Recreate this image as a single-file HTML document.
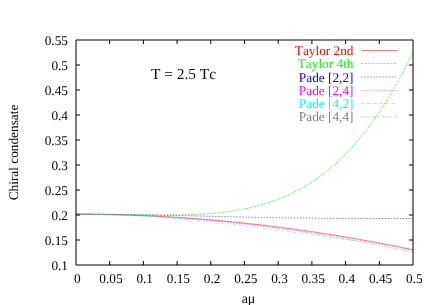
<!DOCTYPE html><html><head><meta charset="utf-8"><style>html,body{margin:0;padding:0;background:#fff}body{width:436px;height:305px;overflow:hidden}</style></head><body><svg width="436" height="305" viewBox="0 0 436 305" style="display:block;will-change:transform">
<rect width="436" height="305" fill="#fff"/>
<g font-family="Liberation Serif, serif" font-size="13.3" fill="#000" text-rendering="geometricPrecision" style="font-kerning:none">
<text x="68" y="269.50" text-anchor="end">0.1</text>
<text x="68" y="244.50" text-anchor="end">0.15</text>
<text x="68" y="219.50" text-anchor="end">0.2</text>
<text x="68" y="194.50" text-anchor="end">0.25</text>
<text x="68" y="169.50" text-anchor="end">0.3</text>
<text x="68" y="144.50" text-anchor="end">0.35</text>
<text x="68" y="119.50" text-anchor="end">0.4</text>
<text x="68" y="94.50" text-anchor="end">0.45</text>
<text x="68" y="69.50" text-anchor="end">0.5</text>
<text x="68" y="44.50" text-anchor="end">0.55</text>
<text x="77.30" y="282.70" text-anchor="middle">0</text>
<text x="111.00" y="282.70" text-anchor="middle">0.05</text>
<text x="144.70" y="282.70" text-anchor="middle">0.1</text>
<text x="178.40" y="282.70" text-anchor="middle">0.15</text>
<text x="212.10" y="282.70" text-anchor="middle">0.2</text>
<text x="245.80" y="282.70" text-anchor="middle">0.25</text>
<text x="279.50" y="282.70" text-anchor="middle">0.3</text>
<text x="313.20" y="282.70" text-anchor="middle">0.35</text>
<text x="346.90" y="282.70" text-anchor="middle">0.4</text>
<text x="380.60" y="282.70" text-anchor="middle">0.45</text>
<text x="414.30" y="282.70" text-anchor="middle">0.5</text>
<text x="248.5" y="303" font-size="14" text-anchor="middle">aμ</text>
<text transform="translate(17.6,152.50) rotate(-90)" text-anchor="middle">Chiral condensate</text>
<text x="151" y="79.3" font-size="15.4">T = 2.5 Tc</text>
<text x="353.5" y="55.00" text-anchor="end" fill="#ff0000">Taylor 2nd</text>
<text x="353.5" y="68.25" text-anchor="end" fill="#00ff00">Taylor 4th</text>
<text x="353.5" y="81.50" text-anchor="end" fill="#0000ff">Pade [2,2]</text>
<text x="353.5" y="94.75" text-anchor="end" fill="#ff00ff">Pade [2,4]</text>
<text x="353.5" y="108.00" text-anchor="end" fill="#00ffff">Pade [4,2]</text>
<text x="353.5" y="121.25" text-anchor="end" fill="#808080">Pade [4,4]</text>
</g>
<g fill="none" stroke-width="0.52">
<path d="M76.00 214.20 L78.70 214.20 L81.39 214.21 L84.09 214.22 L86.78 214.24 L89.48 214.26 L92.18 214.28 L94.87 214.31 L97.57 214.35 L100.26 214.38 L102.96 214.43 L105.66 214.48 L108.35 214.53 L111.05 214.59 L113.74 214.65 L116.44 214.71 L119.14 214.78 L121.83 214.86 L124.53 214.94 L127.22 215.02 L129.92 215.11 L132.62 215.21 L135.31 215.30 L138.01 215.41 L140.70 215.51 L143.40 215.62 L146.10 215.74 L148.79 215.86 L151.49 215.99 L154.18 216.12 L156.88 216.25 L159.58 216.39 L162.27 216.53 L164.97 216.68 L167.66 216.84 L170.36 216.99 L173.06 217.15 L175.75 217.32 L178.45 217.49 L181.14 217.67 L183.84 217.85 L186.54 218.03 L189.23 218.22 L191.93 218.42 L194.62 218.61 L197.32 218.82 L200.02 219.02 L202.71 219.24 L205.41 219.45 L208.10 219.67 L210.80 219.90 L213.50 220.13 L216.19 220.37 L218.89 220.60 L221.58 220.85 L224.28 221.10 L226.98 221.35 L229.67 221.61 L232.37 221.87 L235.06 222.14 L237.76 222.41 L240.46 222.68 L243.15 222.96 L245.85 223.25 L248.54 223.54 L251.24 223.83 L253.94 224.13 L256.63 224.43 L259.33 224.74 L262.02 225.06 L264.72 225.37 L267.42 225.69 L270.11 226.02 L272.81 226.35 L275.50 226.69 L278.20 227.03 L280.90 227.37 L283.59 227.72 L286.29 228.07 L288.98 228.43 L291.68 228.79 L294.38 229.16 L297.07 229.53 L299.77 229.91 L302.46 230.29 L305.16 230.67 L307.86 231.06 L310.55 231.46 L313.25 231.86 L315.94 232.26 L318.64 232.67 L321.34 233.08 L324.03 233.50 L326.73 233.92 L329.42 234.35 L332.12 234.78 L334.82 235.21 L337.51 235.65 L340.21 236.10 L342.90 236.55 L345.60 237.00 L348.30 237.46 L350.99 237.92 L353.69 238.39 L356.38 238.86 L359.08 239.34 L361.78 239.82 L364.47 240.30 L367.17 240.79 L369.86 241.29 L372.56 241.79 L375.26 242.29 L377.95 242.80 L380.65 243.31 L383.34 243.83 L386.04 244.35 L388.74 244.88 L391.43 245.41 L394.13 245.95 L396.82 246.49 L399.52 247.03 L402.22 247.58 L404.91 248.14 L407.61 248.69 L410.30 249.26 L413.00 249.82" stroke="#ff0000"/>
<path d="M361.2 50.50H397.2" stroke="#ff0000"/>
<path d="M76.00 214.03 L78.70 214.03 L81.39 214.04 L84.09 214.05 L86.78 214.06 L89.48 214.07 L92.18 214.09 L94.87 214.11 L97.57 214.14 L100.26 214.16 L102.96 214.19 L105.66 214.22 L108.35 214.26 L111.05 214.30 L113.74 214.33 L116.44 214.37 L119.14 214.41 L121.83 214.46 L124.53 214.50 L127.22 214.54 L129.92 214.59 L132.62 214.63 L135.31 214.67 L138.01 214.71 L140.70 214.75 L143.40 214.79 L146.10 214.83 L148.79 214.86 L151.49 214.89 L154.18 214.91 L156.88 214.94 L159.58 214.95 L162.27 214.96 L164.97 214.97 L167.66 214.96 L170.36 214.95 L173.06 214.94 L175.75 214.91 L178.45 214.88 L181.14 214.83 L183.84 214.77 L186.54 214.71 L189.23 214.63 L191.93 214.53 L194.62 214.43 L197.32 214.31 L200.02 214.17 L202.71 214.02 L205.41 213.85 L208.10 213.66 L210.80 213.45 L213.50 213.23 L216.19 212.98 L218.89 212.71 L221.58 212.42 L224.28 212.10 L226.98 211.76 L229.67 211.40 L232.37 211.01 L235.06 210.59 L237.76 210.14 L240.46 209.66 L243.15 209.15 L245.85 208.61 L248.54 208.03 L251.24 207.42 L253.94 206.77 L256.63 206.09 L259.33 205.37 L262.02 204.61 L264.72 203.81 L267.42 202.96 L270.11 202.08 L272.81 201.15 L275.50 200.17 L278.20 199.14 L280.90 198.07 L283.59 196.94 L286.29 195.77 L288.98 194.54 L291.68 193.26 L294.38 191.92 L297.07 190.52 L299.77 189.07 L302.46 187.55 L305.16 185.97 L307.86 184.33 L310.55 182.62 L313.25 180.85 L315.94 179.01 L318.64 177.10 L321.34 175.11 L324.03 173.05 L326.73 170.92 L329.42 168.71 L332.12 166.42 L334.82 164.06 L337.51 161.61 L340.21 159.07 L342.90 156.45 L345.60 153.75 L348.30 150.95 L350.99 148.06 L353.69 145.08 L356.38 142.00 L359.08 138.83 L361.78 135.56 L364.47 132.19 L367.17 128.71 L369.86 125.13 L372.56 121.44 L375.26 117.65 L377.95 113.74 L380.65 109.72 L383.34 105.59 L386.04 101.33 L388.74 96.96 L391.43 92.47 L394.13 87.85 L396.82 83.11 L399.52 78.24 L402.22 73.24 L404.91 68.11 L407.61 62.84 L410.30 57.44 L413.00 51.90" stroke="#00ff00" stroke-dasharray="2.420 1.210" stroke-width="0.62"/>
<path d="M361.2 63.50H397.2" stroke="#00ff00" stroke-dasharray="2.420 1.210"/>
<path d="M76.00 214.20 L78.70 214.21 L81.39 214.23 L84.09 214.25 L86.78 214.27 L89.48 214.29 L92.18 214.31 L94.87 214.33 L97.57 214.35 L100.26 214.38 L102.96 214.41 L105.66 214.43 L108.35 214.46 L111.05 214.49 L113.74 214.52 L116.44 214.55 L119.14 214.58 L121.83 214.62 L124.53 214.65 L127.22 214.68 L129.92 214.72 L132.62 214.75 L135.31 214.79 L138.01 214.83 L140.70 214.86 L143.40 214.90 L146.10 214.94 L148.79 214.98 L151.49 215.02 L154.18 215.07 L156.88 215.12 L159.58 215.17 L162.27 215.22 L164.97 215.27 L167.66 215.33 L170.36 215.39 L173.06 215.44 L175.75 215.50 L178.45 215.56 L181.14 215.62 L183.84 215.68 L186.54 215.74 L189.23 215.80 L191.93 215.86 L194.62 215.92 L197.32 215.98 L200.02 216.04 L202.71 216.11 L205.41 216.17 L208.10 216.24 L210.80 216.30 L213.50 216.37 L216.19 216.44 L218.89 216.50 L221.58 216.57 L224.28 216.63 L226.98 216.69 L229.67 216.76 L232.37 216.82 L235.06 216.88 L237.76 216.94 L240.46 217.00 L243.15 217.06 L245.85 217.12 L248.54 217.17 L251.24 217.23 L253.94 217.28 L256.63 217.32 L259.33 217.37 L262.02 217.42 L264.72 217.46 L267.42 217.51 L270.11 217.55 L272.81 217.60 L275.50 217.64 L278.20 217.69 L280.90 217.73 L283.59 217.78 L286.29 217.82 L288.98 217.86 L291.68 217.90 L294.38 217.94 L297.07 217.98 L299.77 218.02 L302.46 218.05 L305.16 218.09 L307.86 218.12 L310.55 218.16 L313.25 218.19 L315.94 218.22 L318.64 218.25 L321.34 218.28 L324.03 218.31 L326.73 218.33 L329.42 218.35 L332.12 218.36 L334.82 218.37 L337.51 218.39 L340.21 218.40 L342.90 218.41 L345.60 218.42 L348.30 218.43 L350.99 218.44 L353.69 218.45 L356.38 218.46 L359.08 218.47 L361.78 218.48 L364.47 218.48 L367.17 218.49 L369.86 218.49 L372.56 218.50 L375.26 218.50 L377.95 218.51 L380.65 218.51 L383.34 218.52 L386.04 218.52 L388.74 218.53 L391.43 218.53 L394.13 218.54 L396.82 218.54 L399.52 218.54 L402.22 218.54 L404.91 218.55 L407.61 218.55 L410.30 218.55 L413.00 218.55" stroke="#0000ff" stroke-dasharray="1.452 1.573"/>
<path d="M361.2 77.00H397.2" stroke="#0000ff" stroke-dasharray="1.452 1.573"/>
<path d="M76.00 214.20 L78.70 214.20 L81.39 214.21 L84.09 214.22 L86.78 214.24 L89.48 214.26 L92.18 214.29 L94.87 214.33 L97.57 214.36 L100.26 214.41 L102.96 214.46 L105.66 214.51 L108.35 214.57 L111.05 214.63 L113.74 214.70 L116.44 214.78 L119.14 214.85 L121.83 214.94 L124.53 215.03 L127.22 215.12 L129.92 215.22 L132.62 215.32 L135.31 215.43 L138.01 215.54 L140.70 215.66 L143.40 215.78 L146.10 215.91 L148.79 216.04 L151.49 216.18 L154.18 216.32 L156.88 216.46 L159.58 216.61 L162.27 216.77 L164.97 216.93 L167.66 217.09 L170.36 217.26 L173.06 217.44 L175.75 217.62 L178.45 217.80 L181.14 217.99 L183.84 218.18 L186.54 218.38 L189.23 218.59 L191.93 218.80 L194.62 219.01 L197.32 219.23 L200.02 219.46 L202.71 219.69 L205.41 219.93 L208.10 220.17 L210.80 220.42 L213.50 220.67 L216.19 220.93 L218.89 221.19 L221.58 221.46 L224.28 221.73 L226.98 222.01 L229.67 222.30 L232.37 222.59 L235.06 222.88 L237.76 223.18 L240.46 223.48 L243.15 223.79 L245.85 224.10 L248.54 224.42 L251.24 224.74 L253.94 225.07 L256.63 225.40 L259.33 225.74 L262.02 226.08 L264.72 226.43 L267.42 226.78 L270.11 227.13 L272.81 227.49 L275.50 227.86 L278.20 228.23 L280.90 228.60 L283.59 228.98 L286.29 229.37 L288.98 229.76 L291.68 230.16 L294.38 230.57 L297.07 230.98 L299.77 231.39 L302.46 231.82 L305.16 232.24 L307.86 232.67 L310.55 233.11 L313.25 233.55 L315.94 233.99 L318.64 234.44 L321.34 234.89 L324.03 235.35 L326.73 235.81 L329.42 236.27 L332.12 236.74 L334.82 237.20 L337.51 237.67 L340.21 238.15 L342.90 238.62 L345.60 239.10 L348.30 239.58 L350.99 240.07 L353.69 240.55 L356.38 241.05 L359.08 241.54 L361.78 242.05 L364.47 242.55 L367.17 243.06 L369.86 243.58 L372.56 244.09 L375.26 244.62 L377.95 245.14 L380.65 245.67 L383.34 246.21 L386.04 246.74 L388.74 247.29 L391.43 247.83 L394.13 248.38 L396.82 248.93 L399.52 249.49 L402.22 250.05 L404.91 250.61 L407.61 251.18 L410.30 251.75 L413.00 252.32" stroke="#ff00ff" stroke-dasharray="0.605 0.907"/>
<path d="M361.2 90.50H397.2" stroke="#ff00ff" stroke-dasharray="0.605 0.907"/>
<path d="M76.00 214.20 L78.70 214.20 L81.39 214.21 L84.09 214.23 L86.78 214.25 L89.48 214.28 L92.18 214.32 L94.87 214.36 L97.57 214.41 L100.26 214.47 L102.96 214.53 L105.66 214.60 L108.35 214.67 L111.05 214.75 L113.74 214.84 L116.44 214.93 L119.14 215.02 L121.83 215.13 L124.53 215.23 L127.22 215.35 L129.92 215.46 L132.62 215.59 L135.31 215.71 L138.01 215.85 L140.70 215.98 L143.40 216.12 L146.10 216.27 L148.79 216.43 L151.49 216.60 L154.18 216.77 L156.88 216.95 L159.58 217.15 L162.27 217.34 L164.97 217.55 L167.66 217.76 L170.36 217.98 L173.06 218.20 L175.75 218.43 L178.45 218.67 L181.14 218.91 L183.84 219.16 L186.54 219.41 L189.23 219.66 L191.93 219.92 L194.62 220.18 L197.32 220.45 L200.02 220.72 L202.71 221.01 L205.41 221.30 L208.10 221.59 L210.80 221.89 L213.50 222.20 L216.19 222.50 L218.89 222.81 L221.58 223.12 L224.28 223.43 L226.98 223.73 L229.67 224.04 L232.37 224.35 L235.06 224.67 L237.76 224.98 L240.46 225.31 L243.15 225.64 L245.85 225.97 L248.54 226.31 L251.24 226.66 L253.94 227.03 L256.63 227.42 L259.33 227.81 L262.02 228.20 L264.72 228.59 L267.42 228.96 L270.11 229.32 L272.81 229.65 L275.50 229.98 L278.20 230.30 L280.90 230.63 L283.59 230.96 L286.29 231.28 L288.98 231.61 L291.68 231.95 L294.38 232.28 L297.07 232.62 L299.77 232.97 L302.46 233.32 L305.16 233.67 L307.86 234.04 L310.55 234.41 L313.25 234.78 L315.94 235.16 L318.64 235.54 L321.34 235.92 L324.03 236.31 L326.73 236.70 L329.42 237.09 L332.12 237.48 L334.82 237.86 L337.51 238.24 L340.21 238.61 L342.90 238.98 L345.60 239.35 L348.30 239.71 L350.99 240.08 L353.69 240.46 L356.38 240.84 L359.08 241.24 L361.78 241.64 L364.47 242.06 L367.17 242.47 L369.86 242.89 L372.56 243.29 L375.26 243.66 L377.95 244.00 L380.65 244.33 L383.34 244.64 L386.04 244.95 L388.74 245.26 L391.43 245.60 L394.13 245.96 L396.82 246.33 L399.52 246.71 L402.22 247.10 L404.91 247.49 L407.61 247.89 L410.30 248.31 L413.00 248.72" stroke="#00ffff" stroke-dasharray="3.025 1.210 0.605 1.210"/>
<path d="M361.2 103.50H397.2" stroke="#00ffff" stroke-dasharray="3.025 1.210 0.605 1.210"/>
<path d="M76.00 214.20 L78.70 214.21 L81.39 214.22 L84.09 214.23 L86.78 214.25 L89.48 214.28 L92.18 214.30 L94.87 214.34 L97.57 214.38 L100.26 214.42 L102.96 214.47 L105.66 214.53 L108.35 214.59 L111.05 214.65 L113.74 214.72 L116.44 214.79 L119.14 214.87 L121.83 214.95 L124.53 215.04 L127.22 215.14 L129.92 215.23 L132.62 215.34 L135.31 215.44 L138.01 215.55 L140.70 215.67 L143.40 215.79 L146.10 215.92 L148.79 216.05 L151.49 216.18 L154.18 216.33 L156.88 216.47 L159.58 216.62 L162.27 216.77 L164.97 216.93 L167.66 217.10 L170.36 217.27 L173.06 217.44 L175.75 217.62 L178.45 217.80 L181.14 217.99 L183.84 218.18 L186.54 218.38 L189.23 218.59 L191.93 218.80 L194.62 219.02 L197.32 219.24 L200.02 219.47 L202.71 219.71 L205.41 219.95 L208.10 220.19 L210.80 220.44 L213.50 220.70 L216.19 220.96 L218.89 221.22 L221.58 221.49 L224.28 221.77 L226.98 222.05 L229.67 222.33 L232.37 222.62 L235.06 222.91 L237.76 223.20 L240.46 223.50 L243.15 223.80 L245.85 224.11 L248.54 224.42 L251.24 224.73 L253.94 225.05 L256.63 225.37 L259.33 225.69 L262.02 226.02 L264.72 226.34 L267.42 226.68 L270.11 227.01 L272.81 227.35 L275.50 227.68 L278.20 228.03 L280.90 228.37 L283.59 228.72 L286.29 229.07 L288.98 229.42 L291.68 229.78 L294.38 230.14 L297.07 230.51 L299.77 230.88 L302.46 231.25 L305.16 231.63 L307.86 232.01 L310.55 232.39 L313.25 232.78 L315.94 233.18 L318.64 233.57 L321.34 233.98 L324.03 234.38 L326.73 234.79 L329.42 235.21 L332.12 235.63 L334.82 236.05 L337.51 236.48 L340.21 236.92 L342.90 237.36 L345.60 237.80 L348.30 238.25 L350.99 238.70 L353.69 239.16 L356.38 239.62 L359.08 240.09 L361.78 240.56 L364.47 241.03 L367.17 241.51 L369.86 241.99 L372.56 242.48 L375.26 242.97 L377.95 243.47 L380.65 243.97 L383.34 244.48 L386.04 244.99 L388.74 245.50 L391.43 246.02 L394.13 246.54 L396.82 247.07 L399.52 247.60 L402.22 248.14 L404.91 248.68 L407.61 249.22 L410.30 249.77 L413.00 250.32" stroke="#808080" stroke-dasharray="1.210 1.210 1.210 1.210 1.210 1.210 1.210 2.420"/>
<path d="M361.2 116.90H397.2" stroke="#808080" stroke-dasharray="1.210 1.210 1.210 1.210 1.210 1.210 1.210 2.420"/>
</g>
<path d="M76.0 40.0H413.0V265.0H76.0Z M76.0 240.00h4M413.0 240.00h-4 M76.0 215.00h4M413.0 215.00h-4 M76.0 190.00h4M413.0 190.00h-4 M76.0 165.00h4M413.0 165.00h-4 M76.0 140.00h4M413.0 140.00h-4 M76.0 115.00h4M413.0 115.00h-4 M76.0 90.00h4M413.0 90.00h-4 M76.0 65.00h4M413.0 65.00h-4 M109.70 265.0v-4M109.70 40.0v4 M143.40 265.0v-4M143.40 40.0v4 M177.10 265.0v-4M177.10 40.0v4 M210.80 265.0v-4M210.80 40.0v4 M244.50 265.0v-4M244.50 40.0v4 M278.20 265.0v-4M278.20 40.0v4 M311.90 265.0v-4M311.90 40.0v4 M345.60 265.0v-4M345.60 40.0v4 M379.30 265.0v-4M379.30 40.0v4" fill="none" stroke="#000" stroke-width="1"/>
</svg></body></html>
